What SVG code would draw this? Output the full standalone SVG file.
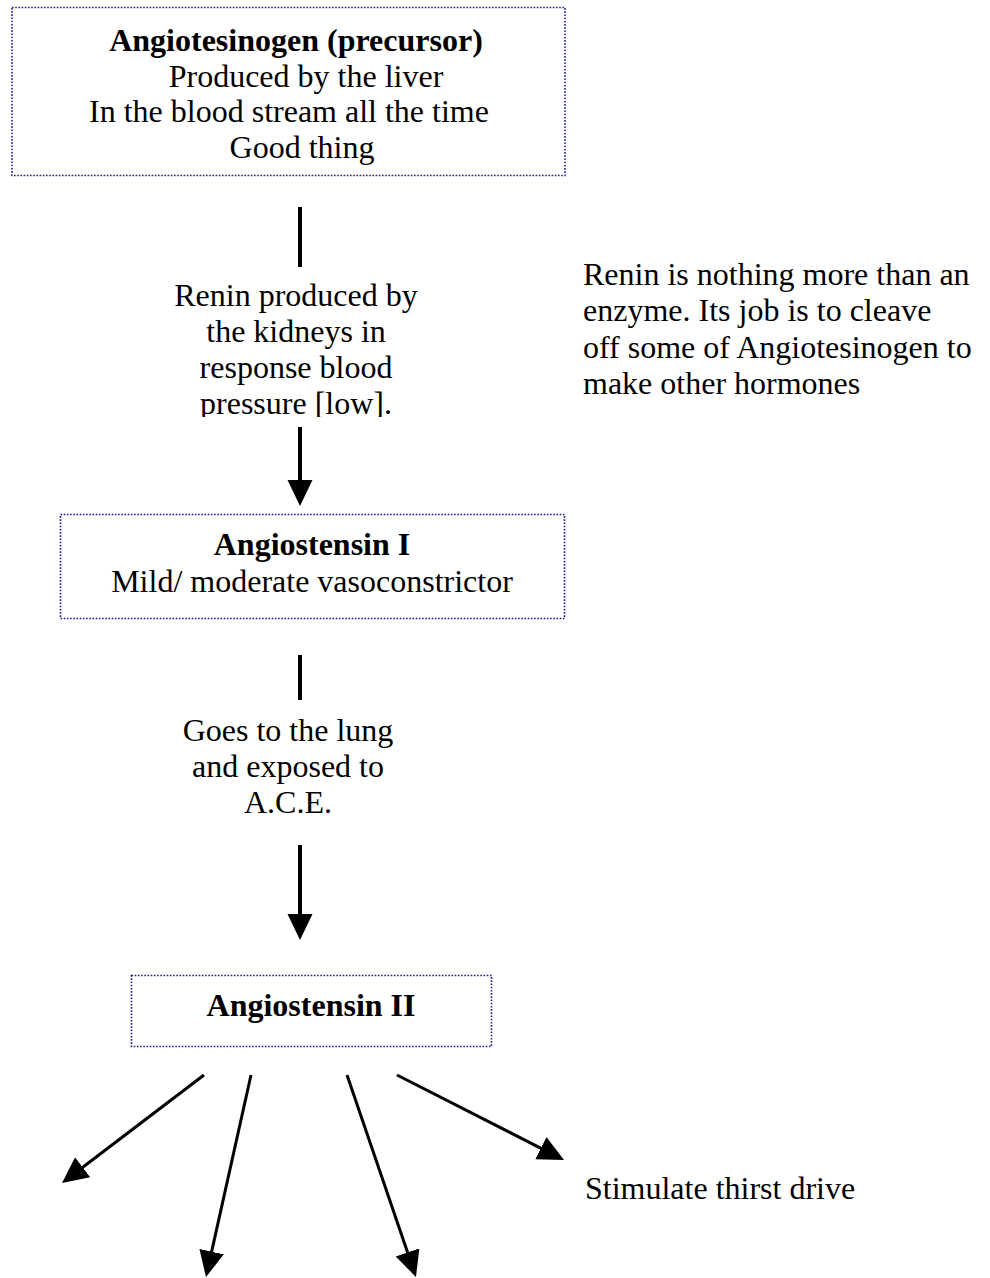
<svg xmlns="http://www.w3.org/2000/svg" width="990" height="1278" viewBox="0 0 990 1278">
<style>
.box{fill:#ffffff;stroke:#1c1c9a;stroke-width:1.6;stroke-dasharray:1.6 1.6}
text{font-family:"Liberation Serif","Times New Roman",serif;font-size:32px;fill:#000}
.b{font-weight:bold}
.c{text-anchor:middle}
.ln{stroke:#000;fill:none}
.v{stroke-width:4}
.d{stroke-width:3}
</style>
<defs>
<marker id="ah" markerUnits="userSpaceOnUse" markerWidth="28" markerHeight="26" refX="2" refY="12.5" orient="auto" viewBox="0 0 28 26">
<path d="M0,0 L26,12.5 L0,25 z" fill="#000"/>
</marker>
<clipPath id="clipRenin"><rect x="150" y="270" width="300" height="147"/></clipPath>
</defs>
<rect width="990" height="1278" fill="#fff"/>
<g id="connectors">
<line class="ln v" x1="300" y1="207" x2="300" y2="267"/>
<line class="ln v" x1="300" y1="427" x2="300" y2="482" marker-end="url(#ah)"/>
<line class="ln v" x1="300" y1="655" x2="300" y2="700"/>
<line class="ln v" x1="300" y1="845" x2="300" y2="916" marker-end="url(#ah)"/>
<line class="ln d" x1="204" y1="1075" x2="81.1" y2="1168.5" marker-end="url(#ah)"/>
<line class="ln d" x1="251" y1="1075" x2="211.2" y2="1253.6" marker-end="url(#ah)"/>
<line class="ln d" x1="347" y1="1075" x2="408.2" y2="1254.3" marker-end="url(#ah)"/>
<line class="ln d" x1="397" y1="1075" x2="542.6" y2="1149.1" marker-end="url(#ah)"/>
</g>
<g id="angiotensinogen">
<rect class="box" x="12" y="7.5" width="553" height="168"/>
<text class="b c" x="296" y="51">Angiotesinogen (precursor)</text>
<text class="c" x="306" y="87">Produced by the liver</text>
<text class="c" x="289" y="122">In the blood stream all the time</text>
<text class="c" x="302" y="158">Good thing</text>
</g>
<g id="renin-label" clip-path="url(#clipRenin)">
<text class="c" x="296" y="306">Renin produced by</text>
<text class="c" x="296" y="342">the kidneys in</text>
<text class="c" x="296" y="378">response blood</text>
<text class="c" x="296" y="414">pressure [low].</text>
</g>
<g id="renin-note">
<text x="583" y="285">Renin is nothing more than an</text>
<text x="583" y="321">enzyme. Its job is to cleave</text>
<text x="583" y="358">off some of Angiotesinogen to</text>
<text x="583" y="394">make other hormones</text>
</g>
<g id="angiotensin-1">
<rect class="box" x="60.5" y="514.5" width="504" height="104"/>
<text class="b c" x="312" y="555">Angiostensin I</text>
<text class="c" x="312" y="592">Mild/ moderate vasoconstrictor</text>
</g>
<g id="ace-label">
<text class="c" x="288" y="741">Goes to the lung</text>
<text class="c" x="288" y="777">and exposed to</text>
<text class="c" x="288" y="813">A.C.E.</text>
</g>
<g id="angiotensin-2">
<rect class="box" x="131.5" y="975.5" width="360" height="71"/>
<text class="b c" x="311" y="1016">Angiostensin II</text>
</g>
<g id="thirst">
<text x="585" y="1199">Stimulate thirst drive</text>
</g>
</svg>
